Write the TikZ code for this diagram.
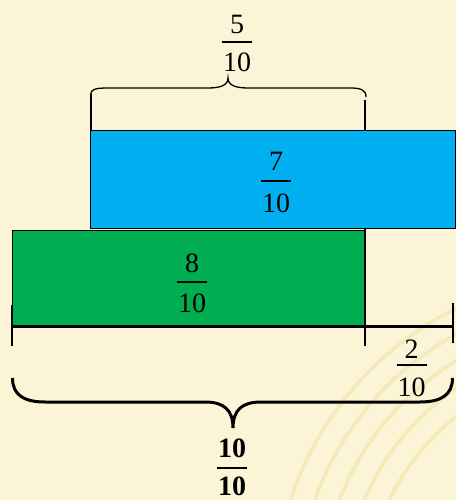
\documentclass[tikz,border=0pt]{standalone}
\usepackage{fontspec}
\setmainfont{Liberation Serif}
\definecolor{bg}{RGB}{251,244,214}
\definecolor{arcc}{RGB}{245,234,183}
\definecolor{boxblue}{RGB}{0,176,240}
\definecolor{boxgreen}{RGB}{0,173,80}
\newcommand\myfrac[8]{%
  \node[fr] (#1n) at (#2,#3+9.5) {#6};
  \draw[#8] (#2-15,#4) -- (#2+15,#4);
  \node[fr] (#1d) at (#2,#5+9.5) {#7};}
\begin{document}
\begin{tikzpicture}[x=1pt,y=-1pt,
  fr/.style={inner sep=0pt,anchor=base,font=\fontsize{28}{30}\selectfont},
  thinbar/.style={line width=1.2pt},
  boldbar/.style={line width=2pt},
  tick/.style={line width=2.8pt},
  thinbrace/.style={line width=1.3pt},
  thickbrace/.style={line width=3pt},
  boxframe/.style={draw=black,line width=1.2pt},
  arcline/.style={draw=arcc,line width=3.5pt}]
\useasboundingbox (0,0) rectangle (456,500);
\fill[bg] (0,0) rectangle (456,500);
\begin{scope}
  \clip (0,0) rectangle (456,500);
  \foreach \r in {233,256,279,302,325}
    \draw[arcline] (600,600) circle (\r pt);
\end{scope}
% green box
\node[boxframe,fill=boxgreen,anchor=north west,minimum width=353pt,minimum height=96pt,inner sep=0pt] (green) at (12,230) {};
% ticks and baseline
\coordinate (t1a) at (91,94);  \coordinate (t1b) at (91,130);
\coordinate (t2a) at (365,100); \coordinate (t2b) at (365,346);
\coordinate (t3a) at (12,305); \coordinate (t3b) at (12,346);
\coordinate (t4a) at (453,303); \coordinate (t4b) at (453,343);
\coordinate (bl) at (12,326.5); \coordinate (br) at (453,326.5);
\draw[tick] (t1a) -- (t1b);
\draw[tick] (t2a) -- (t2b);
\draw[tick] (t3a) -- (t3b);
\draw[tick] (t4a) -- (t4b);
\draw[tick,line cap=butt] (bl) -- (br);
% blue box
\node[boxframe,fill=boxblue,anchor=north west,minimum width=365pt,minimum height=98pt,inner sep=0pt] (blue) at (90,130) {};
% top brace
\draw[thinbrace] (90.5,95) .. controls (90.5,89) and (96,88) .. (108,88) -- (208,88)
  .. controls (221,88) and (228,85) .. (228,78)
  .. controls (228,85) and (235,88) .. (248,88) -- (350,88)
  .. controls (361,88) and (366,90) .. (366,97);
% bottom brace
\draw[thickbrace] (12.5,378) .. controls (12.5,395) and (24,402) .. (45,402) -- (205,402)
  .. controls (224,402) and (233,410) .. (233,428)
  .. controls (233,410) and (242,402) .. (261,402) -- (420,402)
  .. controls (441,402) and (452.5,395) .. (452.5,378);
% fractions
\myfrac{ft}{237}{24}{42}{62}{5}{10}{thinbar}
\myfrac{fb}{276}{161}{181}{202.5}{7}{10}{thinbar}
\myfrac{fg}{192}{262.5}{282}{303}{8}{10}{thinbar}
\myfrac{fr}{411.5}{349}{365}{386.5}{2}{10}{thinbar}
\myfrac{fw}{232}{447.5}{468}{486}{\bfseries 10}{\bfseries 10}{boldbar}
\end{tikzpicture}
\end{document}
